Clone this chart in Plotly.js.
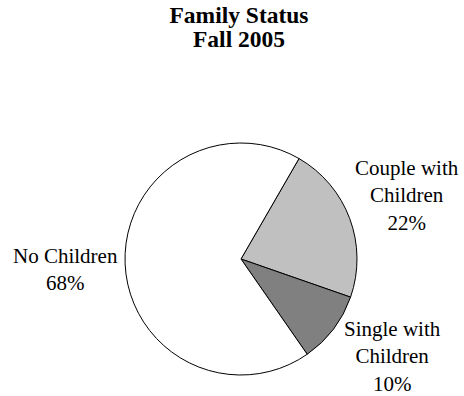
<!DOCTYPE html>
<html>
<head>
<meta charset="utf-8">
<script src="https://cdn.plot.ly/plotly-3.0.1.min.js"></script>
<style>html,body{margin:0;padding:0;background:#fff;}#chart{width:464px;height:396px;}</style>
</head>
<body>
<div id="chart"></div>
<script>
// Data
var titleLines = ["Family Status", "Fall 2005"];
var categories = ["Couple with<br>Children", "Single with<br>Children", "No Children"];
var shares = [22, 10, 68];
var sliceColors = ["#c0c0c0", "#808080", "#ffffff"];

// Layout helpers (pixel positions of the label blocks, from top-left)
var W = 464, H = 396;
var labelAnchors = [[407, 195], [392, 356.5], [65.5, 269.5]];

var serif = "'Liberation Serif', 'Times New Roman', Times, 'DejaVu Serif', serif";

var trace = {
  type: "pie",
  labels: categories,
  values: shares,
  sort: false,
  direction: "clockwise",
  rotation: 30,
  marker: { colors: sliceColors, line: { color: "#000000", width: 1 } },
  textinfo: "none",
  hoverinfo: "none",
  showlegend: false,
  domain: { x: [125 / W, 357 / W], y: [21 / H, 253 / H] }
};

var annotations = [{
  text: "<b>" + titleLines[1] + "</b>",
  font: { family: serif, size: 23.5, color: "#000000" },
  xref: "paper", yref: "paper",
  x: 239 / W, y: 1 - 39.5 / H,
  xanchor: "center", yanchor: "middle",
  showarrow: false
}];

var total = shares.reduce(function (a, b) { return a + b; }, 0);
for (var i = 0; i < categories.length; i++) {
  var pct = Math.round(shares[i] / total * 100);
  annotations.push({
    text: categories[i] + "<br>" + pct + "%",
    font: { family: serif, size: 21, color: "#000000", weight: 400 },
    xref: "paper", yref: "paper",
    x: labelAnchors[i][0] / W, y: 1 - labelAnchors[i][1] / H,
    xanchor: "center", yanchor: "middle",
    align: "center",
    borderpad: 0,
    showarrow: false
  });
}

var layout = {
  width: W,
  height: H,
  margin: { l: 0, r: 0, t: 0, b: 0 },
  paper_bgcolor: "#ffffff",
  plot_bgcolor: "#ffffff",
  showlegend: false,
  font: { family: serif, color: "#000000" },
  title: {
    text: "<b>" + titleLines[0] + "</b>",
    font: { family: serif, size: 23.5, color: "#000000" },
    x: 239 / W,
    xanchor: "center",
    xref: "paper",
    y: 1 - 14.5 / H,
    yref: "container",
    yanchor: "middle"
  },
  annotations: annotations
};

Plotly.newPlot("chart", [trace], layout, { staticPlot: true, displayModeBar: false });
</script>
</body>
</html>
